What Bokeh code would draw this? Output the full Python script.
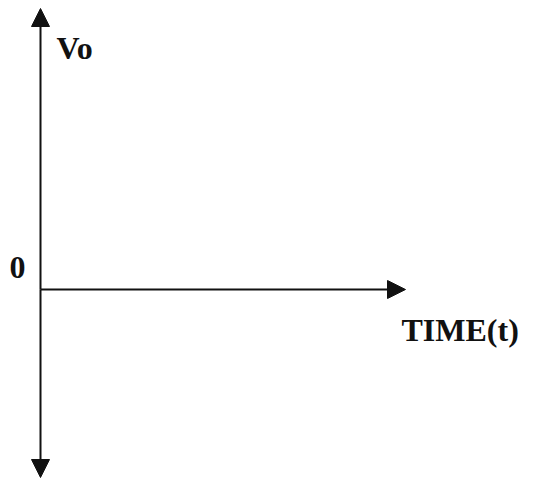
from bokeh.plotting import figure
from bokeh.models import Range1d, Arrow, NormalHead, Label
from bokeh.embed import file_html
from bokeh.resources import INLINE

# diagram "data": axis extents in pixel-like coordinates
v_axis_x = 41
v_axis_top = 8
v_axis_bottom = 477
h_axis_y = 289
h_axis_left = 41
h_axis_right = 406

labels_text = ["Vo", "0", "TIME(t)"]
labels_x = [57, 10, 402]
labels_y = [47, 267, 329]

W, H = 519, 478
p = figure(width=W, height=H, output_backend="svg", toolbar_location=None,
           x_range=Range1d(1, 1 + W), y_range=Range1d(H, 0),
           min_border=0, outline_line_color=None)
p.axis.visible = False
p.grid.visible = False

def head():
    return NormalHead(size=18, fill_color="#111111", line_color="#111111")

# vertical axis with arrows at both ends
p.add_layout(Arrow(x_start=v_axis_x, y_start=h_axis_y, x_end=v_axis_x, y_end=v_axis_top,
                   line_width=2, line_color="#111111", end=head()))
p.add_layout(Arrow(x_start=v_axis_x, y_start=h_axis_y, x_end=v_axis_x, y_end=v_axis_bottom,
                   line_width=2, line_color="#111111", end=head()))
# horizontal axis
p.add_layout(Arrow(x_start=h_axis_left, y_start=h_axis_y, x_end=h_axis_right, y_end=h_axis_y,
                   line_width=2, line_color="#111111", end=head()))

for t, x, y in zip(labels_text, labels_x, labels_y):
    p.add_layout(Label(x=x, y=y, text=t, text_font="Liberation Serif",
                       text_font_style="bold", text_font_size="32px",
                       text_color="#111111", text_baseline="alphabetic"))

open("out.html", "w").write(file_html(p, INLINE))
